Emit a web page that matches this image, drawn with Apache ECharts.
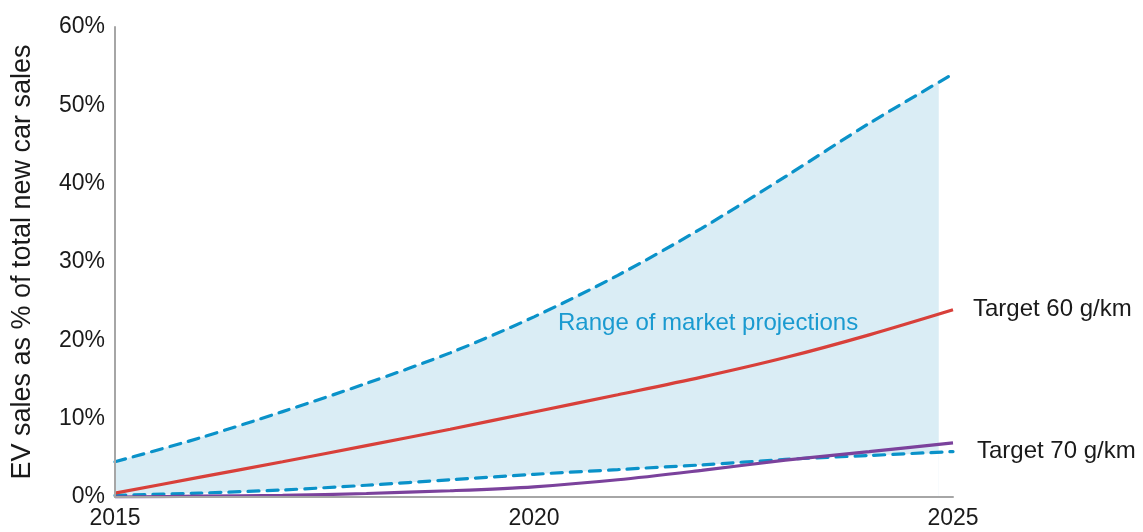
<!DOCTYPE html>
<html>
<head>
<meta charset="utf-8">
<script src="https://cdn.jsdelivr.net/npm/echarts@6/dist/echarts.min.js"></script>
<style>
html, body { margin: 0; padding: 0; background: #fff; }
#main { width: 1143px; height: 532px; }
</style>
</head>
<body>
<div id="main"></div>
<script>
// years on x axis
var years = [2015, 2016, 2017, 2018, 2019, 2020, 2021, 2022, 2023, 2024, 2025];
// range of market projections (dashed lines)
var upperProj = [4.5, 7.5, 10.9, 14.5, 18.4, 23.0, 28.3, 34.3, 40.9, 47.7, 54.0];
var lowerProj = [0.2, 0.5, 0.9, 1.5, 2.2, 2.9, 3.5, 4.1, 4.8, 5.3, 5.8];
// shaded band stops a little before 2025
var fillYears = [2015, 2016, 2017, 2018, 2019, 2020, 2021, 2022, 2023, 2024, 2024.83];
var fillUpper = [4.5, 7.5, 10.9, 14.5, 18.4, 23.0, 28.3, 34.3, 40.9, 47.7, 53.0];
var fillLower = [0.2, 0.5, 0.9, 1.5, 2.2, 2.9, 3.5, 4.1, 4.8, 5.3, 5.6];
// targets
var target60 = [0.5, 2.5, 4.5, 6.55, 8.65, 10.85, 13.05, 15.3, 17.8, 20.7, 23.9];
var target70 = [0.0, 0.1, 0.2, 0.45, 0.8, 1.3, 2.2, 3.4, 4.7, 5.8, 6.9];
var yTicks = [0, 10, 20, 30, 40, 50, 60];

function pairs(xs, ys) {
    return xs.map(function (x, i) { return [x, ys[i]]; });
}

var chartDom = document.getElementById('main');
var myChart = echarts.init(chartDom);
var font = '"Liberation Sans", Arial, Helvetica, sans-serif';
var smoothness = 0.3;
var option = {
    animation: false,
    textStyle: { fontFamily: font },
    grid: { left: 115, right: 190, top: 27, bottom: 35, outerBoundsMode: 'none' },
    xAxis: {
        type: 'value',
        min: 2015,
        max: 2025,
        interval: 5,
        z: 10,
        axisLine: { lineStyle: { color: '#a6a6a6', width: 2 } },
        axisTick: { show: false },
        splitLine: { show: false },
        axisLabel: {
            color: '#1a1a1a', fontSize: 23, margin: 10, fontFamily: font,
            formatter: function (v) { return String(v); }
        }
    },
    yAxis: {
        type: 'value',
        min: yTicks[0],
        max: yTicks[yTicks.length - 1],
        interval: 10,
        z: 10,
        name: 'EV sales as % of total new car sales',
        nameLocation: 'middle',
        nameRotate: 90,
        nameGap: 79,
        nameTextStyle: { color: '#1a1a1a', fontSize: 27, fontFamily: font },
        axisLine: { show: true, lineStyle: { color: '#a6a6a6', width: 2 } },
        axisTick: { show: false },
        splitLine: { show: false },
        axisLabel: { color: '#1a1a1a', fontSize: 23, margin: 10, formatter: '{value}%', fontFamily: font }
    },
    series: [
        {
            // shaded band: light blue down from the upper projection...
            name: 'fillUpper',
            type: 'line',
            smooth: smoothness,
            symbol: 'none',
            silent: true,
            lineStyle: { width: 0, opacity: 0 },
            areaStyle: { color: '#daedf5', opacity: 1 },
            data: pairs(fillYears, fillUpper)
        },
        {
            // ...and cleared again below the lower projection
            name: 'fillLower',
            type: 'line',
            smooth: smoothness,
            symbol: 'none',
            silent: true,
            lineStyle: { width: 0, opacity: 0 },
            areaStyle: { color: '#ffffff', opacity: 1 },
            data: pairs(fillYears, fillLower)
        },
        {
            name: 'Upper projection',
            type: 'line',
            smooth: smoothness,
            symbol: 'none',
            lineStyle: { color: '#0a92c9', width: 3.2, type: [11, 8], cap: 'round' },
            data: pairs(years, upperProj)
        },
        {
            name: 'Lower projection',
            type: 'line',
            smooth: smoothness,
            symbol: 'none',
            lineStyle: { color: '#0a92c9', width: 3.2, type: [11, 8], cap: 'round' },
            data: pairs(years, lowerProj)
        },
        {
            name: 'Target 60 g/km',
            type: 'line',
            smooth: smoothness,
            symbol: 'none',
            lineStyle: { color: '#d8403a', width: 3.2 },
            endLabel: {
                show: true,
                formatter: 'Target 60 g/km',
                color: '#1a1a1a',
                fontSize: 24,
                distance: 20,
                fontFamily: font
            },
            data: pairs(years, target60)
        },
        {
            name: 'Target 70 g/km',
            type: 'line',
            smooth: smoothness,
            symbol: 'none',
            lineStyle: { color: '#7b429c', width: 3.2 },
            endLabel: {
                show: true,
                formatter: 'Target 70 g/km',
                color: '#1a1a1a',
                fontSize: 24,
                distance: 24,
                offset: [0, 8],
                fontFamily: font
            },
            data: pairs(years, target70)
        }
    ],
    graphic: [
        {
            type: 'text',
            left: 558,
            top: 311,
            silent: true,
            z: 5,
            style: {
                text: 'Range of market projections',
                fill: '#1a9ad0',
                fontSize: 24,
                fontFamily: font
            }
        }
    ]
};
option && myChart.setOption(option);
window.addEventListener('resize', function () {
    myChart.resize();
});
</script>
</body>
</html>
